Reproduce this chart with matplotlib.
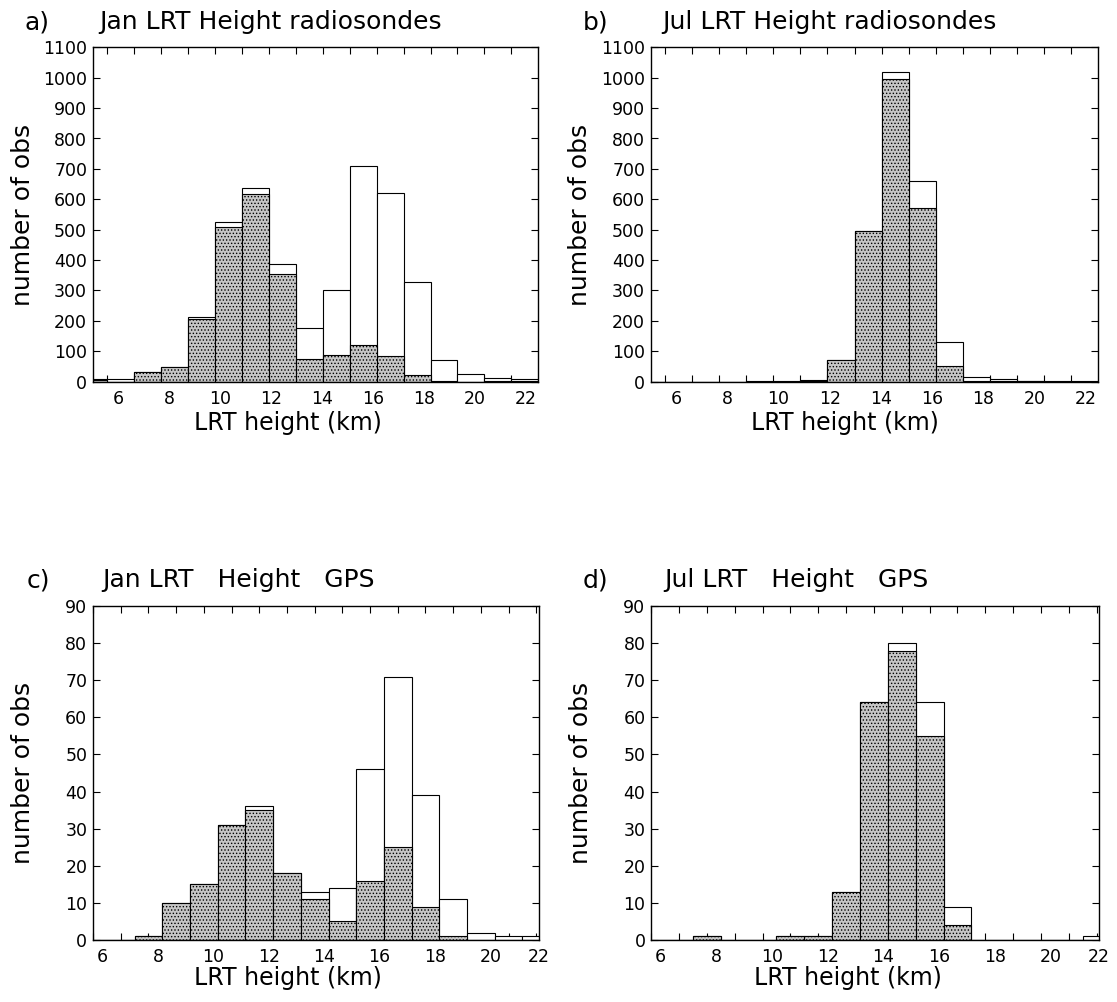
import numpy as np
import matplotlib
matplotlib.use('Agg')
import matplotlib.pyplot as plt
from matplotlib.ticker import FixedLocator

plt.rcParams['font.family'] = ['DejaVu Sans']
plt.rcParams['hatch.linewidth'] = 0.6

# ---------------- data ----------------
# radiosonde histograms: 17 bins, nominal lower edge (km)
sonde_bin_km = list(range(5, 22))
jan_sonde_total = [8, 8, 33, 48, 212, 524, 636, 386, 175, 302, 710, 622, 327, 71, 24, 12, 8]
jan_sonde_sub = [4, 0, 33, 47, 205, 508, 616, 353, 75, 88, 121, 84, 22, 1, 0, 2, 1]
jul_sonde_total = [0, 0, 0, 0, 1, 1, 4, 72, 497, 1018, 660, 130, 17, 10, 3, 1, 1]
jul_sonde_sub = [0, 0, 0, 0, 0, 0, 3, 72, 497, 997, 570, 53, 2, 1, 1, 0, 0]

# GPS histograms: 17 bins, nominal lower edge (km)
gps_bin_km = list(range(5, 22))
jan_gps_total = [0, 0, 1, 10, 15, 31, 36, 18, 13, 14, 46, 71, 39, 11, 2, 1, 1]
jan_gps_sub = [0, 0, 1, 10, 15, 31, 35, 18, 11, 5, 16, 25, 9, 1, 0, 0, 0]
jul_gps_total = [0, 0, 1, 0, 0, 1, 1, 13, 64, 80, 64, 9, 0, 0, 0, 0, 1]
jul_gps_sub = [0, 0, 1, 0, 0, 1, 1, 13, 64, 78, 55, 4, 0, 0, 0, 0, 0]

xtick_labels = ['6', '8', '10', '12', '14', '16', '18', '20', '22']
sonde_yticks = list(range(0, 1101, 100))
gps_yticks = list(range(0, 91, 10))

titles = ['Jan LRT Height radiosondes', 'Jul LRT Height radiosondes',
          'Jan LRT   Height   GPS', 'Jul LRT   Height   GPS']
letters = ['a)', 'b)', 'c)', 'd)']
xlabel = 'LRT height (km)'
ylabel = 'number of obs'

# ---------------- layout ----------------
W, H = 1117, 1002
fig = plt.figure(figsize=(W / 100, H / 100), dpi=100)


def axes_px(l, r, t, b):
    return fig.add_axes([l / W, 1 - b / H, (r - l) / W, (b - t) / H])


ax_a = axes_px(92.7, 538.4, 47.3, 381.7)
ax_b = axes_px(650.7, 1098.3, 47.3, 381.7)
ax_c = axes_px(92.9, 538.6, 606, 940)
ax_d = axes_px(651, 1099, 606, 940)

# radiosonde bars drawn over [4.5, 22.5] in 17 equal bins
sonde_w = 18 / 17
sonde_left = [4.5 + (k - sonde_bin_km[0]) * sonde_w for k in sonde_bin_km]
gps_w = 1.0
gps_left = [k + 0.16 for k in gps_bin_km]

HATCH_FC = '#c6c6c6'


def draw(ax, left, width, total, sub, xlim, ylim, yticks, lab_pos, minor_pos,
         xlab_x, xlab_y):
    ax.bar(left, total, width=width, align='edge', facecolor='white',
           edgecolor='black', linewidth=0.8, zorder=2)
    ax.bar(left, sub, width=width, align='edge', facecolor=HATCH_FC,
           edgecolor='black', linewidth=0.8, hatch='.....', zorder=3)
    ax.set_xlim(*xlim)
    ax.set_ylim(*ylim)
    ax.set_yticks(yticks)
    ax.set_xticks(lab_pos)
    ax.set_xticklabels(xtick_labels)
    ax.xaxis.set_minor_locator(FixedLocator(minor_pos))
    ax.tick_params(axis='x', which='major', length=0, pad=6, labelsize=12.5)
    ax.tick_params(axis='x', which='minor', direction='in', length=5,
                   width=0.8, top=True, bottom=True)
    ax.tick_params(axis='y', which='major', direction='in', length=5,
                   width=0.8, left=True, right=True, pad=4, labelsize=12.5)
    for s in ax.spines.values():
        s.set_linewidth(1.0)
        s.set_zorder(5)
    ax.set_xlabel(xlabel, fontsize=17, va='baseline')
    ax.xaxis.set_label_coords(xlab_x, xlab_y)
    ax.set_ylabel(ylabel, fontsize=18, va='center')
    ax.yaxis.set_label_coords(-0.157, 0.5)


sonde_lab = [6, 8, 10, 12, 14, 16, 18, 20, 22]
sonde_minor = [sonde_left[i] for i in range(1, len(sonde_left))]
gps_xlim = (5.653, 21.744)
gps_lab = [6, 8, 10, 12, 14, 16, 18, 20, gps_xlim[1]]
gps_minor = [x + gps_w / 2 for x in gps_left]

draw(ax_a, sonde_left, sonde_w, jan_sonde_total, jan_sonde_sub, (5, 22.5),
     (0, 1100), sonde_yticks, sonde_lab, sonde_minor, 0.437, -0.144)
draw(ax_b, sonde_left, sonde_w, jul_sonde_total, jul_sonde_sub, (5, 22.5),
     (0, 1100), sonde_yticks, sonde_lab, sonde_minor, 0.435, -0.144)
draw(ax_c, gps_left, gps_w, jan_gps_total, jan_gps_sub, gps_xlim,
     (0, 90), gps_yticks, gps_lab, gps_minor, 0.437, -0.135)
draw(ax_d, gps_left, gps_w, jul_gps_total, jul_gps_sub, gps_xlim,
     (0, 90), gps_yticks, gps_lab, gps_minor, 0.4386, -0.135)

# titles
title_pos = [(25, 99, 29.5), (583, 662, 29.5), (27, 102, 587.5), (583, 664, 587.5)]
for (lx, tx, ty), let, tt in zip(title_pos, letters, titles):
    fig.text(lx / W, 1 - ty / H, let, fontsize=18, ha='left', va='baseline')
    fig.text(tx / W, 1 - ty / H, tt, fontsize=18, ha='left', va='baseline')

fig.savefig('out.png', dpi=100)
